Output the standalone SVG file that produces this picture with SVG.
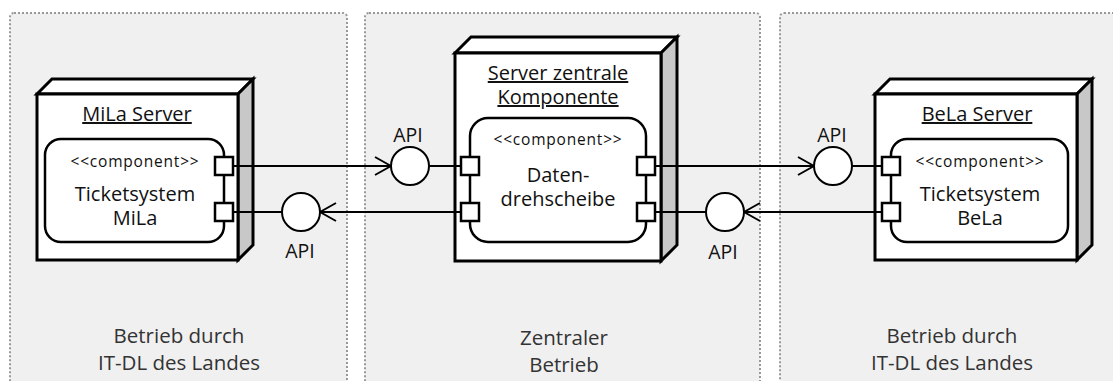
<svg xmlns="http://www.w3.org/2000/svg" width="1113" height="381" viewBox="0 0 1113 381">
<style>
.zone{fill:#f0f0f0;stroke:#999;stroke-width:2;stroke-dasharray:2 2}
.front{fill:#fff;stroke:#000;stroke-width:3}
.top{fill:#fff;stroke:#000;stroke-width:3;stroke-linejoin:miter}
.side{fill:#c8c8c8;stroke:#000;stroke-width:3}
.comp{fill:#fff;stroke:#000;stroke-width:2.5}
.port{fill:#fff;stroke:#000;stroke-width:2.5}
.iface{fill:#fff;stroke:#000;stroke-width:2}
.ln{fill:none;stroke:#000;stroke-width:2}
text{font-family:"Open Sans","Noto Sans","Liberation Sans",sans-serif;fill:#111;text-anchor:middle}
.title{font-size:20px;text-decoration:underline}
.stereo{font-size:15.5px;letter-spacing:0.8px}
.name{font-size:20px}
.api{font-size:19.5px}
.zl{font-size:20.5px;fill:#333}
</style>
<defs>
<marker id="open" markerUnits="userSpaceOnUse" markerWidth="18" markerHeight="22" viewBox="0 0 18 22" refX="17" refY="11" orient="auto">
<path d="M1,2 L17,11 L1,20" fill="none" stroke="#000" stroke-width="2"/>
</marker>
</defs>
<g id="zones">
<rect class="zone" x="10" y="13" width="337" height="400" rx="4"/>
<rect class="zone" x="365" y="13" width="395" height="400" rx="4"/>
<rect class="zone" x="780" y="13" width="400" height="400" rx="4"/>
<text class="zl" x="179" y="343">Betrieb durch</text>
<text class="zl" x="179" y="370">IT-DL des Landes</text>
<text class="zl" x="564" y="345">Zentraler</text>
<text class="zl" x="564" y="372">Betrieb</text>
<text class="zl" x="952" y="343">Betrieb durch</text>
<text class="zl" x="952" y="370">IT-DL des Landes</text>
</g>
<g id="mila">
<polygon class="top" points="37,94 52,79 253,79 238,94"/>
<polygon class="side" points="238,94 253,79 253,245 238,260"/>
<rect class="front" x="37" y="94" width="201" height="166"/>
<text class="title" x="137" y="121">MiLa Server</text>
<rect class="comp" x="45" y="139" width="179" height="103" rx="16"/>
<text class="stereo" x="135" y="167">&lt;&lt;component&gt;&gt;</text>
<text class="name" x="135" y="201">Ticketsystem</text>
<text class="name" x="135" y="225">MiLa</text>
<rect class="port" x="215" y="157" width="18" height="18"/>
<rect class="port" x="215" y="203" width="18" height="18"/>
</g>
<g id="central">
<polygon class="top" points="455,53 471,37 677,37 661,53"/>
<polygon class="side" points="661,53 677,37 677,245 661,261"/>
<rect class="front" x="455" y="53" width="206" height="208"/>
<text class="title" x="558" y="80">Server zentrale</text>
<text class="title" x="558" y="104">Komponente</text>
<rect class="comp" x="470" y="118" width="176" height="124" rx="18"/>
<text class="stereo" x="558" y="145">&lt;&lt;component&gt;&gt;</text>
<text class="name" x="558" y="182">Daten-</text>
<text class="name" x="558" y="206">drehscheibe</text>
<rect class="port" x="461" y="157" width="18" height="18"/>
<rect class="port" x="461" y="203" width="18" height="18"/>
<rect class="port" x="637" y="157" width="18" height="18"/>
<rect class="port" x="637" y="203" width="18" height="18"/>
</g>
<g id="bela">
<polygon class="top" points="875,94 890,79 1092,79 1077,94"/>
<polygon class="side" points="1077,94 1092,79 1092,245 1077,260"/>
<rect class="front" x="875" y="94" width="202" height="166"/>
<text class="title" x="977" y="121">BeLa Server</text>
<rect class="comp" x="891" y="139" width="177" height="103" rx="16"/>
<text class="stereo" x="980" y="167">&lt;&lt;component&gt;&gt;</text>
<text class="name" x="980" y="201">Ticketsystem</text>
<text class="name" x="980" y="225">BeLa</text>
<rect class="port" x="882" y="157" width="18" height="18"/>
<rect class="port" x="882" y="203" width="18" height="18"/>
</g>
<g id="connectors">
<line class="ln" x1="233" y1="166" x2="391" y2="166" marker-end="url(#open)"/>
<line class="ln" x1="429" y1="166" x2="461" y2="166"/>
<circle class="iface" cx="410" cy="166" r="19"/>
<text class="api" x="408" y="142">API</text>
<line class="ln" x1="461" y1="212" x2="320" y2="212" marker-end="url(#open)"/>
<line class="ln" x1="282" y1="212" x2="233" y2="212"/>
<circle class="iface" cx="301" cy="212" r="19"/>
<text class="api" x="300" y="258">API</text>
<line class="ln" x1="655" y1="166" x2="814" y2="166" marker-end="url(#open)"/>
<line class="ln" x1="852" y1="166" x2="882" y2="166"/>
<circle class="iface" cx="833" cy="166" r="19"/>
<text class="api" x="832" y="142">API</text>
<line class="ln" x1="882" y1="212" x2="744" y2="212" marker-end="url(#open)"/>
<line class="ln" x1="706" y1="212" x2="655" y2="212"/>
<circle class="iface" cx="725" cy="212" r="19"/>
<text class="api" x="723" y="259">API</text>
</g>
</svg>
